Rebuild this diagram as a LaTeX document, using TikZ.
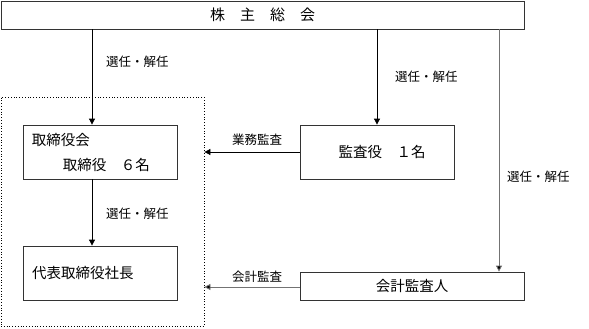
\documentclass[tikz,border=0pt]{standalone}
\usepackage{fontspec}
\setmainfont{Noto Sans CJK JP}
\usetikzlibrary{arrows.meta,calc}
\begin{document}
\begin{tikzpicture}[x=1pt,y=-1pt,
  box/.style={draw=black!80, line width=0.8pt, inner sep=0pt, font=\fontsize{14.5}{17}\selectfont},
  btext/.style={inner sep=0pt, anchor=west, font=\fontsize{14.5}{17}\selectfont},
  lbl/.style={inner sep=0pt, anchor=west, font=\fontsize{12.5}{14}\selectfont},
  arr/.style={-{Triangle[length=6pt,width=6pt]}, line width=0.8pt},
  grayarr/.style={arr, draw=black!55, -{Triangle[length=6pt,width=6pt,fill=black]}}]
\useasboundingbox (0,0) rectangle (589,329);
% nodes
\node[box, minimum width=523pt, minimum height=28pt, font=\fontsize{15}{17}\selectfont] (gm) at (262.5,15) {株　主　総　会};
\node[draw, dotted, line width=0.8pt, minimum width=203pt, minimum height=229pt, inner sep=0pt] (grp) at (102.5,211.5) {};
\node[box, minimum width=154pt, minimum height=54pt] (board) at (100,152) {};
\node[btext] (bt1) at ($(board.west)+(9,-12)$) {取締役会};
\node[btext] (bt2) at ($(board.west)+(40,13)$) {取締役　６名};
\node[box, minimum height=54pt, text width=136pt, inner xsep=9pt, align=left] (pres) at (100,273) {代表取締役社長};
\node[box, minimum width=154pt, minimum height=54pt] (aud) at (377,152) {\hspace*{10pt}監査役　１名};
\node[box, minimum width=224pt, minimum height=28pt] (acct) at (412,286) {会計監査人};
% anchor columns
\coordinate (c1) at (92,0);
\coordinate (c2) at (377,0);
\coordinate (c3) at (499,0);
% connectors
\draw[arr] (gm.south -| c1) -- (board.north -| c1);
\draw[arr] (gm.south -| c2) -- (aud.north -| c2);
\draw[grayarr] (gm.south -| c3) -- (acct.north -| c3);
\draw[arr] (board.south -| c1) -- (pres.north -| c1);
\draw[arr] (aud.west) -- (aud.west -| grp.east);
\draw[grayarr] ($(acct.west)+(0,1)$) -- ($(acct.west -| grp.east)+(0,1)$);
% labels
\node[lbl] (l1) at (106,62) {選任・解任};
\node[lbl] (l2) at (395,77) {選任・解任};
\node[lbl] (l3) at (507,177) {選任・解任};
\node[lbl] (l4) at (106,214) {選任・解任};
\node[lbl] (l5) at (232,140) {業務監査};
\node[lbl] (l6) at (232,277) {会計監査};
\end{tikzpicture}
\end{document}
